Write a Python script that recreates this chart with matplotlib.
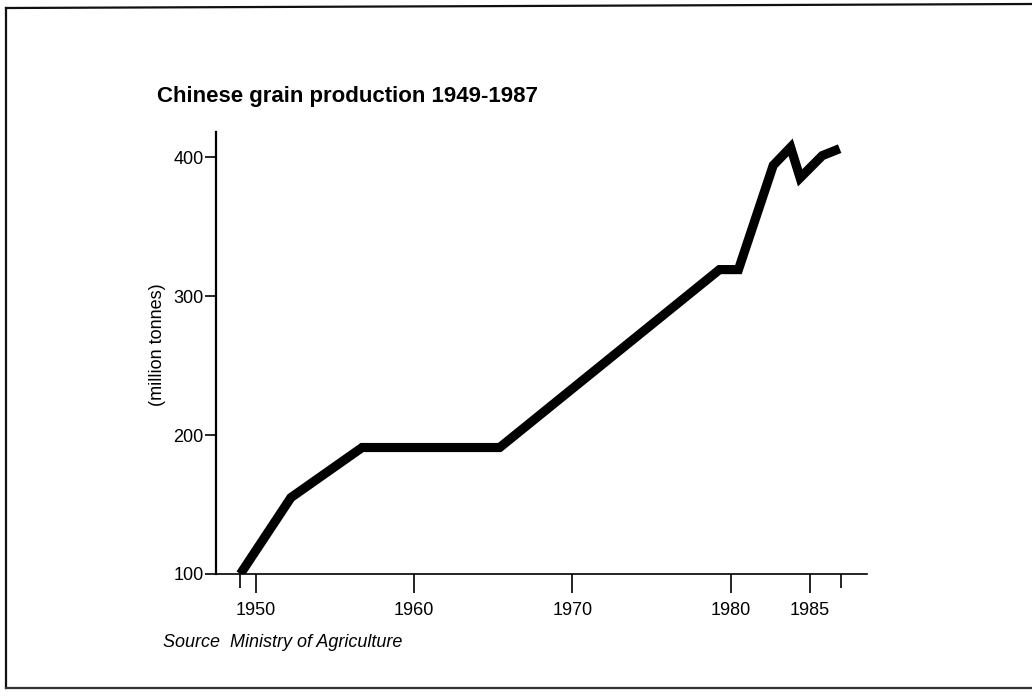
import matplotlib
matplotlib.use("Agg")
import matplotlib.pyplot as plt
from matplotlib.lines import Line2D

# ---- data ----
years = [1949, 1952.2, 1956.7, 1965.4, 1979.3, 1980.5, 1982.7, 1983.8, 1984.4, 1985.8, 1986.9]
grain = [100, 155, 191, 191, 319, 319, 394, 407, 385, 401, 406]

x_major = [1950, 1960, 1970, 1980, 1985]
x_minor = [1949, 1987]
y_ticks = [100, 200, 300, 400]

title = "Chinese grain production 1949-1987"
ylabel = "(million tonnes)"
source = "Source  Ministry of Agriculture"

plt.rcParams['font.family'] = ['Liberation Sans', 'DejaVu Sans']

W, H = 1032, 697
fig = plt.figure(figsize=(W / 100, H / 100), dpi=100)
fig.patch.set_facecolor('white')

# axes: left 216px, right 867px, top 132px, bottom 574px
ax = fig.add_axes([216 / W, 1 - 574 / H, (867 - 216) / W, (574 - 132) / H])
ax.plot(years, grain, color='black', lw=6.6, solid_joinstyle='miter', solid_capstyle='butt')

ax.set_xlim(1947.46, 1988.63)
ax.set_ylim(100, 418)

for s in ['top', 'right']:
    ax.spines[s].set_visible(False)
ax.spines['left'].set_linewidth(1.6)
ax.spines['bottom'].set_linewidth(1.2)

ax.set_xticks(x_major)
ax.set_xticklabels([str(v) for v in x_major])
ax.set_xticks(x_minor, minor=True)
ax.set_yticks(y_ticks)
ax.set_yticklabels([str(v) for v in y_ticks])

ax.tick_params(axis='x', which='major', direction='out', length=13.5, width=1.2,
               pad=7, labelsize=13, colors='black')
ax.tick_params(axis='x', which='minor', direction='out', length=10, width=1.2)
ax.tick_params(axis='y', direction='out', length=8, width=1.2, pad=0.8,
               labelsize=13, colors='black')

fig.text(157 / W, 1 - 102 / H, title, fontsize=16, fontweight='bold',
         ha='left', va='baseline')
fig.text(157 / W, 1 - 345 / H, ylabel, fontsize=13, rotation=90,
         ha='center', va='center')
fig.text(163 / W, 1 - 647 / H, source, fontsize=13, style='italic',
         ha='left', va='baseline')

# frame around the figure (left, top, bottom)
lx, ty, by = 6 / W, 1 - 8 / H, 1 - 688 / H
fig.add_artist(Line2D([lx, lx], [by, ty], transform=fig.transFigure, color='#111111', lw=1.6))
fig.add_artist(Line2D([lx, 1.0], [ty, 1 - 4 / H], transform=fig.transFigure, color='#111111', lw=1.6))
fig.add_artist(Line2D([lx, 1.0], [by, by], transform=fig.transFigure, color='#333333', lw=1.6))

fig.savefig("out.png", dpi=100, facecolor='white')
